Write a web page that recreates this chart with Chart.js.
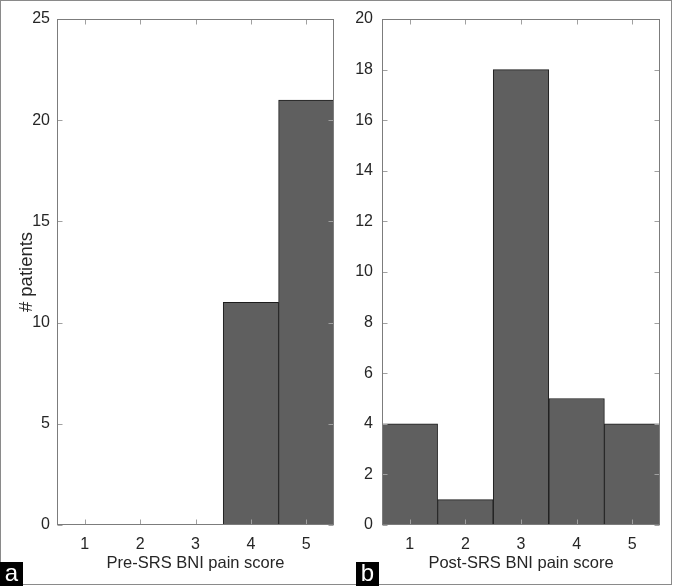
<!DOCTYPE html>
<html>
<head>
<meta charset="utf-8">
<script src="https://cdn.jsdelivr.net/npm/chart.js@4/dist/chart.umd.min.js"></script>
<style>
  html, body { margin: 0; padding: 0; background: #fff; }
  #wrap { position: relative; width: 674px; height: 586px; overflow: hidden; }
  #frame { position: absolute; left: 0; top: 0; width: 670px; height: 583px; border: 1px solid #8a8a8a; }
  canvas { position: absolute; top: 0; }
  .tag { position: absolute; background: #000; color: #fff; font-family: "Liberation Sans", Arial, sans-serif;
         font-size: 24px; line-height: 22px; width: 23px; height: 24px; text-align: center; }
</style>
</head>
<body>
<div id="wrap">
  <div id="frame"></div>
  <canvas id="cA" width="345" height="586" style="left:0px"></canvas>
  <canvas id="cB" width="329" height="586" style="left:345px"></canvas>
  <div class="tag" style="left:0px; top:562px;">a</div>
  <div class="tag" style="left:356px; top:562px;">b</div>
</div>
<script>
const categories = ["1", "2", "3", "4", "5"];
const preCounts = [0, 0, 0, 11, 21];
const postCounts = [4, 1, 18, 5, 4];
const preTitle = "Pre-SRS BNI pain score";
const postTitle = "Post-SRS BNI pain score";
const yTitle = "# patients";

const FONT = '"Liberation Sans", Arial, Helvetica, sans-serif';
const TXT = '#262626';

const frameTicks = {
  id: 'frameTicks',
  afterDatasetsDraw(chart) {
    const ctx = chart.ctx, a = chart.chartArea;
    const L = Math.round(a.left) + 0.5, R = Math.round(a.right) - 0.5;
    const T = Math.round(a.top) + 0.5, B = Math.round(a.bottom) - 0.5;
    ctx.save();
    ctx.strokeStyle = '#a0a0a0';
    ctx.lineWidth = 1;
    const xs = chart.scales.x, ys = chart.scales.y;
    ctx.beginPath();
    xs.ticks.forEach((t, i) => {
      const px = Math.round(xs.getPixelForTick(i)) + 0.5;
      ctx.moveTo(px, B); ctx.lineTo(px, B - 5);
      ctx.moveTo(px, T); ctx.lineTo(px, T + 5);
    });
    ys.ticks.forEach((t, i) => {
      const py = Math.round(ys.getPixelForTick(i)) + 0.5;
      ctx.moveTo(L, py); ctx.lineTo(L + 5, py);
      ctx.moveTo(R, py); ctx.lineTo(R - 5, py);
    });
    ctx.stroke();
    ctx.strokeStyle = '#7c7c7c';
    ctx.strokeRect(L, T, R - L, B - T);
    ctx.restore();
  }
};

function makeChart(id, data, xTitle, yMax, yStep, yWidth, rightPad, tickPad, showYTitle) {
  return new Chart(document.getElementById(id), {
    type: 'bar',
    data: {
      labels: categories,
      datasets: [{
        data: data,
        backgroundColor: '#5f5f5f',
        borderColor: '#1c1c1c',
        borderWidth: (c) => (c.raw > 0 ? 1 : 0),
        borderSkipped: false,
        barPercentage: 1,
        categoryPercentage: 1
      }]
    },
    options: {
      responsive: false,
      animation: false,
      devicePixelRatio: 1,
      layout: { padding: { top: 19, right: rightPad, bottom: 0, left: 0 } },
      plugins: { legend: { display: false }, tooltip: { enabled: false } },
      scales: {
        x: {
          grid: { display: false, drawTicks: false },
          border: { display: false },
          ticks: { color: TXT, font: { family: FONT, size: 16 }, padding: 10, maxRotation: 0 },
          title: { display: true, text: xTitle, color: TXT, font: { family: FONT, size: 16.5 }, padding: { top: 0, bottom: 13 } },
          afterFit(s) { s.height = 61; }
        },
        y: {
          min: 0, max: yMax,
          grid: { display: false, drawTicks: false },
          border: { display: false },
          ticks: { stepSize: yStep, color: TXT, font: { family: FONT, size: 16 }, padding: tickPad },
          title: { display: showYTitle, text: yTitle, color: TXT, font: { family: FONT, size: 18.5 }, padding: { top: 16, bottom: 0 } },
          afterFit(s) { s.width = yWidth; }
        }
      }
    },
    plugins: [frameTicks]
  });
}

makeChart('cA', preCounts, preTitle, 25, 5, 57, 11, 7, true);
makeChart('cB', postCounts, postTitle, 20, 2, 37, 14, 9, false);
</script>
</body>
</html>
